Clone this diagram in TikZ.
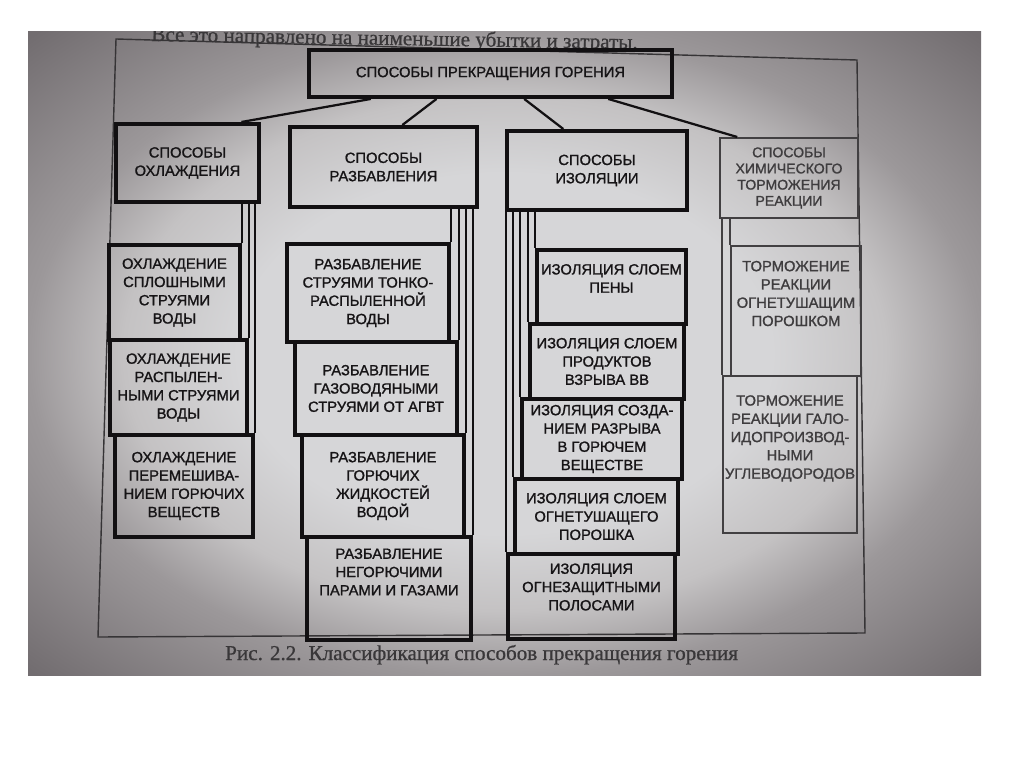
\documentclass[tikz,border=0pt]{standalone}
\usepackage{fontspec}
\setmainfont{Liberation Serif}
\newfontfamily\boxfont[FakeBold=1.2]{Liberation Sans}
\newfontfamily\printfont[FakeBold=0.8]{Liberation Serif}
\usetikzlibrary{calc}

\definecolor{ink}{RGB}{22,20,22}
\definecolor{paleink}{RGB}{62,60,62}
\definecolor{boxline}{RGB}{18,16,18}
\definecolor{paleline}{RGB}{66,64,66}
\definecolor{paperA}{RGB}{214,214,216}
\definecolor{paperB}{RGB}{196,194,195}
\definecolor{paperC}{RGB}{156,152,154}
\definecolor{paperD}{RGB}{114,109,112}
\pgfdeclareradialshading{photo}{\pgfpoint{0bp}{0bp}}{color(0bp)=(paperA); color(14bp)=(paperA); color(20bp)=(paperB); color(25bp)=(paperC); color(35bp)=(paperD); color(50bp)=(paperD)}

\begin{document}
\begin{tikzpicture}[
        x=0.025cm, y=-0.025cm,
        box/.style={
            draw=boxline,
            line width=2.8pt,
            anchor=north west,
            inner sep=0pt,
            align=center,
            text=ink,
            font=\boxfont\fontsize{10.5}{13}\selectfont
        },
        pale/.style={
            box,
            draw=paleline,
            line width=1.4pt,
            text=paleink
        },
        dims/.style 2 args={minimum width=#1*0.025cm, minimum height=#2*0.025cm},
        link/.style={draw=boxline, line width=1.6pt},
        bus/.style={draw=boxline, line width=1pt},
        palebus/.style={draw=paleline, line width=1pt},
        frame/.style={draw=boxline!85, line width=1pt},
        printed/.style={font=\printfont\fontsize{15}{18}\selectfont, text=ink!85, inner sep=0pt, anchor=base west}
    ]
        \fill[white] (0,0) rectangle (1024,767);
        \useasboundingbox (0,0) rectangle (1024,767);
        \shade[shading=photo] (28,32) rectangle (981,675);

        \begin{scope}
            \clip (28,32) rectangle (981,675);
            \node[printed, rotate=-0.95] (note) at (151,41) {Все это направлено на наименьшие убытки и затраты.};
        \end{scope}

        \draw[frame] (116,39) -- (857,60) -- (865,633) -- (98,637) -- cycle;

        \node[box, dims={363}{47}] (top) at (307,48) {СПОСОБЫ ПРЕКРАЩЕНИЯ ГОРЕНИЯ};

        \node[box, dims={143}{78}] (cool) at (114,122) {СПОСОБЫ\\ОХЛАЖДЕНИЯ};
        \node[box, dims={187}{80}] (dilute) at (288,125) {СПОСОБЫ\\РАЗБАВЛЕНИЯ};
        \node[box, dims={180}{79}] (isol) at (505,129) {СПОСОБЫ\\ИЗОЛЯЦИИ};
        \node[pale, dims={138}{80}, font=\boxfont\fontsize{10}{11.5}\selectfont] (inhib) at (719,137) {СПОСОБЫ\\ХИМИЧЕСКОГО\\ТОРМОЖЕНИЯ\\РЕАКЦИИ};

        \node[box, dims={131}{95}] (cool1) at (107,243) {ОХЛАЖДЕНИЕ\\СПЛОШНЫМИ\\СТРУЯМИ\\ВОДЫ};
        \node[box, dims={137}{95}] (cool2) at (108,338) {ОХЛАЖДЕНИЕ\\РАСПЫЛЕН-\\НЫМИ СТРУЯМИ\\ВОДЫ};
        \node[box, dims={138}{102}] (cool3) at (113,433) {ОХЛАЖДЕНИЕ\\ПЕРЕМЕШИВА-\\НИЕМ ГОРЮЧИХ\\ВЕЩЕСТВ};

        \node[box, dims={162}{98}] (dil1) at (285,242) {РАЗБАВЛЕНИЕ\\СТРУЯМИ ТОНКО-\\РАСПЫЛЕННОЙ\\ВОДЫ};
        \node[box, dims={162}{93}] (dil2) at (293,340) {РАЗБАВЛЕНИЕ\\ГАЗОВОДЯНЫМИ\\СТРУЯМИ ОТ АГВТ};
        \node[box, dims={162}{102}] (dil3) at (300,433) {РАЗБАВЛЕНИЕ\\ГОРЮЧИХ\\ЖИДКОСТЕЙ\\ВОДОЙ};
        \node[box, dims={164}{103}] (dil4) at (305,535) {\raisebox{10.7pt}[\height][\depth]{\begin{tabular}{@{}c@{}}РАЗБАВЛЕНИЕ\\НЕГОРЮЧИМИ\\ПАРАМИ И ГАЗАМИ\end{tabular}}};

        \node[box, dims={149}{74}] (iso1) at (535,248) {\raisebox{5pt}[\height][\depth]{\begin{tabular}{@{}c@{}}ИЗОЛЯЦИЯ СЛОЕМ\\ПЕНЫ\end{tabular}}};
        \node[box, dims={154}{75}] (iso2) at (528,322) {ИЗОЛЯЦИЯ СЛОЕМ\\ПРОДУКТОВ\\ВЗРЫВА ВВ};
        \node[box, dims={160}{80}] (iso3) at (520,397) {ИЗОЛЯЦИЯ СОЗДА-\\НИЕМ РАЗРЫВА\\В ГОРЮЧЕМ\\ВЕЩЕСТВЕ};
        \node[box, dims={163}{75}] (iso4) at (513,477) {ИЗОЛЯЦИЯ СЛОЕМ\\ОГНЕТУШАЩЕГО\\ПОРОШКА};
        \node[box, dims={167}{85}] (iso5) at (506,552) {\raisebox{5.7pt}[\height][\depth]{\begin{tabular}{@{}c@{}}ИЗОЛЯЦИЯ\\ОГНЕЗАЩИТНЫМИ\\ПОЛОСАМИ\end{tabular}}};

        \node[pale, dims={130}{130}] (inh1) at (730,245) {\raisebox{11.4pt}[\height][\depth]{\begin{tabular}{@{}c@{}}ТОРМОЖЕНИЕ\\РЕАКЦИИ\\ОГНЕТУШАЩИМ\\ПОРОШКОМ\end{tabular}}};
        \node[pale, dims={134}{157}] (inh2) at (722,375) {\raisebox{11.4pt}[\height][\depth]{\begin{tabular}{@{}c@{}}ТОРМОЖЕНИЕ\\РЕАКЦИИ ГАЛО-\\ИДОПРОИЗВОД-\\НЫМИ\\УГЛЕВОДОРОДОВ\end{tabular}}};

        \draw[link] ($(top.south west)!0.174!(top.south east)$) -- ($(cool.north west)!0.867!(cool.north east)$);
        \draw[link] ($(top.south west)!0.353!(top.south east)$) -- ($(dilute.north west)!0.599!(dilute.north east)$);
        \draw[link] ($(top.south west)!0.592!(top.south east)$) -- ($(isol.north west)!0.317!(isol.north east)$);
        \draw[link] ($(top.south west)!0.821!(top.south east)$) -- ($(inhib.north west)!0.13!(inhib.north east)$);

        \foreach \sub in {cool1,cool2,cool3}
            \draw[bus] (cool.south -| \sub.north east) -- (\sub.north east);
        \foreach \sub in {dil1,dil2,dil3,dil4}
            \draw[bus] (dilute.south -| \sub.north east) -- (\sub.north east);
        \foreach \sub in {iso1,iso2,iso3,iso4,iso5}
            \draw[bus] (isol.south -| \sub.north west) -- (\sub.north west);
        \foreach \sub in {inh1,inh2}
            \draw[palebus] (inhib.south -| \sub.north west) -- (\sub.north west);

        \node[printed] (caption) at (225,660) {Рис. 2.2. Классификация способов прекращения горения};
    \end{tikzpicture}
\end{document}
